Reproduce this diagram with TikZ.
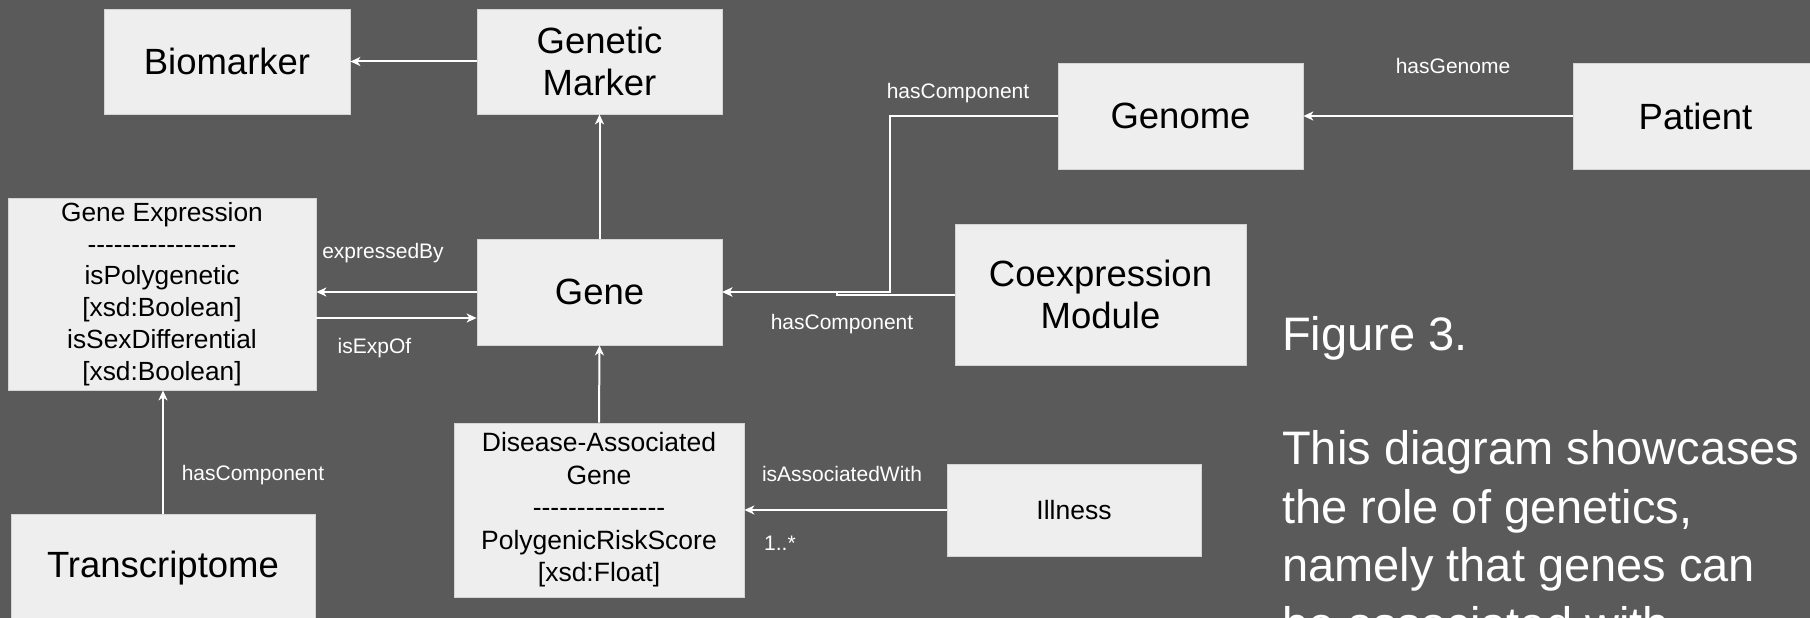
\documentclass[tikz,border=0pt]{standalone}
\usepackage{fontspec}
\setmainfont{Liberation Sans}
\usetikzlibrary{arrows.meta}
\definecolor{bg}{HTML}{5A5A5A}
\definecolor{boxfill}{HTML}{EEEEEE}
\definecolor{boxline}{HTML}{D4D4D4}
\newcommand\hy{-\kern0pt}
\begin{document}
\begin{tikzpicture}[x=1pt,y=-1pt,
  box/.style={fill=boxfill, draw=boxline, line width=0.8pt, inner sep=0pt, align=center, text=black},
  big/.style={font=\fontsize{36.5}{42}\selectfont},
  mid/.style={font=\fontsize{26.3}{31.7}\selectfont},
  lbl/.style={text=white, font=\fontsize{21}{25}\selectfont, inner sep=0pt, text height=15pt, text depth=4pt},
  captxt/.style={text=white, font=\fontsize{47}{58}\selectfont, inner sep=0pt, anchor=base west},
  conn/.style={draw=white, line width=2pt},
  arr/.style={conn, -{Stealth[length=10pt,width=9pt,inset=3pt]}},
]
\fill[bg] (0,0) rectangle (1810,618);
\useasboundingbox (0,0) rectangle (1810,618);

% boxes
\node[box,big,minimum width=246pt,minimum height=105pt] (bio) at (227,61.5) {Biomarker};
\node[box,big,minimum width=245pt,minimum height=105pt] (gm) at (599.5,61.5) {Genetic\\Marker};
\node[box,big,minimum width=245pt,minimum height=106pt] (genome) at (1180.5,116) {Genome};
\node[box,big,minimum width=245pt,minimum height=106pt] (patient) at (1695.5,116) {Patient};
\node[box,mid,minimum width=308pt,minimum height=192pt] (gexp) at (162,294)
  {Gene Expression\\\hy\hy\hy\hy\hy\hy\hy\hy\hy\hy\hy\hy\hy\hy\hy\hy\hy\\isPolygenetic\\{}[xsd:Boolean]\\isSexDifferential\\{}[xsd:Boolean]};
\node[box,big,minimum width=245pt,minimum height=106pt] (gene) at (599.5,292) {Gene};
\node[box,big,minimum width=291pt,minimum height=141pt] (coex) at (1100.5,294.5) {Coexpression\\Module};
\node[box,big,minimum width=304pt,minimum height=108pt] (trans) at (163,568) {Transcriptome};
\node[box,font=\fontsize{26.5}{32.5}\selectfont,minimum width=290pt,minimum height=174pt] (dag) at (599,510)
  {Disease-Associated\\Gene\\\hy\hy\hy\hy\hy\hy\hy\hy\hy\hy\hy\hy\hy\hy\hy\\PolygenicRiskScore\\{}[xsd:Float]};
\node[box,font=\fontsize{26.5}{32.5}\selectfont,minimum width=254pt,minimum height=92pt] (ill) at (1074,510) {Illness};

% connectors
\draw[arr] (gm.west) -- (bio.east);
\draw[arr] (gene.north) -- (gm.south);
\draw[arr] (dag.north) -- (gene.south);
\draw[arr] (trans.north) -- (trans.north |- gexp.south);
\draw[arr] (patient.west) -- (genome.east);
\draw[arr] (genome.west) -- ++(-168,0) |- (gene.east);
\draw[arr] (coex.west) -- ++(-118,0) |- (gene.east);
\draw[arr] (gene.west) -- (gene.west -| gexp.east);
\draw[arr] (gexp.east |- 0,318) -- (gene.west |- 0,318);
\draw[arr] (ill.west) -- (dag.east);

% labels
\node[lbl] (l1) at (958,93) {hasComponent};
\node[lbl] (l2) at (1453,68) {hasGenome};
\node[lbl] (l3) at (842,324) {hasComponent};
\node[lbl] (l4) at (383,253) {expressedBy};
\node[lbl] (l5) at (374.5,348) {isExpOf};
\node[lbl] (l6) at (253,475) {hasComponent};
\node[lbl] (l7) at (842,476) {isAssociatedWith};
\node[lbl,anchor=west] (l8) at (764,545) {1..*};

% caption
\node[captxt] (fig) at (1282,350) {Figure 3.};
\node[captxt] (c1) at (1282,464) {This diagram showcases};
\node[captxt] (c2) at (1282,523) {the role of genetics,};
\node[captxt] (c3) at (1282,581) {namely that genes can};
\node[captxt] (c4) at (1282,640) {be associated with};
\end{tikzpicture}
\end{document}
